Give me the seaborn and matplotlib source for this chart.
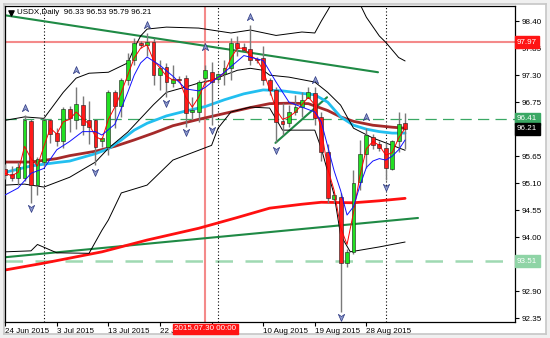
import numpy as np
import pandas as pd
import matplotlib
matplotlib.use("Agg")
import matplotlib.pyplot as plt
import seaborn as sns
from matplotlib.path import Path

sns.set_theme(style="white")
plt.rcParams['font.family'] = ['Liberation Sans', 'DejaVu Sans']

# ---------------- data ----------------
bar_index = list(range(63))
opens = [95.39, 95.28, 95.20, 95.20, 96.36, 95.06, 95.53, 96.38, 96.12, 95.96,
         96.61, 96.38, 96.69, 96.38, 96.38, 95.96, 95.83, 96.95, 96.67, 97.20,
         97.60, 97.95, 97.92, 97.97, 97.30, 97.46, 97.14, 97.22, 97.24, 96.55,
         96.55, 97.24, 97.36, 97.22, 97.32, 97.44, 97.95, 97.87, 97.83, 97.62,
         97.65, 97.20, 97.00, 96.36, 96.32, 96.55, 96.65, 96.83, 96.93, 96.44,
         95.73, 94.77, 94.81, 93.47, 93.69, 95.12, 95.69, 96.04, 95.89, 95.81,
         95.39, 95.96, 96.33]
highs = [95.50, 95.45, 95.53, 96.49, 96.40, 95.63, 96.45, 96.40, 96.22, 96.65,
         96.68, 97.06, 96.88, 96.77, 96.40, 96.05, 97.00, 97.00, 97.25, 97.75,
         98.05, 98.00, 98.16, 98.05, 97.60, 97.55, 97.50, 97.28, 97.30, 96.85,
         97.20, 97.50, 97.56, 97.35, 97.60, 98.05, 98.10, 97.95, 98.32, 97.68,
         97.90, 97.25, 97.05, 96.73, 96.69, 96.89, 96.95, 97.06, 97.06, 96.55,
         95.90, 94.90, 94.90, 93.75, 95.37, 95.98, 96.22, 96.10, 95.95, 95.92,
         95.98, 96.55, 96.53]
lows = [95.18, 95.15, 95.06, 95.15, 94.69, 94.86, 95.45, 95.92, 95.86, 95.82,
        96.15, 96.20, 96.08, 95.90, 95.47, 95.83, 95.67, 96.22, 96.45, 97.10,
        97.50, 97.85, 97.70, 97.10, 97.00, 96.85, 97.05, 97.18, 96.24, 96.40,
        96.35, 97.10, 96.28, 97.15, 97.10, 97.20, 97.70, 97.80, 97.50, 97.55,
        97.10, 96.90, 95.94, 96.08, 96.24, 96.49, 96.44, 96.83, 96.28, 95.55,
        94.70, 94.70, 92.47, 93.40, 93.65, 94.95, 95.40, 95.80, 95.75, 95.16,
        95.37, 95.73, 95.79]
closes = [95.26, 95.20, 95.43, 96.38, 95.06, 95.59, 96.38, 96.10, 95.96, 96.61,
          96.42, 96.71, 96.28, 96.24, 95.83, 96.02, 96.95, 96.67, 97.20, 97.60,
          97.95, 97.92, 97.97, 97.30, 97.44, 97.16, 97.22, 97.21, 96.53, 96.59,
          97.16, 97.40, 97.16, 97.32, 97.44, 97.95, 97.85, 97.81, 97.60, 97.60,
          97.20, 97.00, 96.34, 96.30, 96.55, 96.65, 96.79, 96.95, 96.42, 95.73,
          94.79, 94.85, 93.47, 93.69, 95.10, 95.69, 96.08, 95.87, 95.81, 95.41,
          95.96, 96.30, 96.21]

fast_ma = [95.30, 95.25, 95.32, 95.85, 95.60, 95.45, 95.85, 96.22, 96.10, 96.35,
           96.40, 96.55, 96.42, 96.30, 96.05, 95.98, 96.40, 96.65, 96.95, 97.30,
           97.65, 97.85, 97.92, 97.60, 97.45, 97.28, 97.20, 97.20, 96.85, 96.65,
           96.85, 97.15, 97.20, 97.25, 97.35, 97.65, 97.85, 97.85, 97.70, 97.62,
           97.40, 97.00, 96.60, 96.40, 96.45, 96.55, 96.70, 96.85, 96.70, 96.20,
           95.40, 94.95, 94.20, 93.85, 94.50, 95.25, 95.80, 95.95, 95.87, 95.67,
           95.72, 96.02, 96.22]

slow_ma_idx = [0, 2, 4, 6, 8, 10, 12, 14, 15, 17, 18, 19, 20, 21, 22, 24, 26, 28,
               30, 31, 34, 37, 40, 42, 44, 46, 48, 49, 50, 51, 52, 53, 54, 55, 56,
               57, 58, 59, 60, 61, 62]
slow_ma = [94.86, 95.00, 95.30, 95.40, 95.78, 95.95, 96.15, 96.15, 96.08, 96.30,
           96.62, 96.95, 97.30, 97.55, 97.67, 97.50, 97.28, 97.02, 96.98, 97.05,
           97.36, 97.70, 97.60, 97.16, 96.75, 96.65, 96.55, 96.35, 95.85, 95.35,
           94.95, 94.45, 94.62, 95.05, 95.42, 95.55, 95.60, 95.57, 95.65, 95.78,
           95.98]

sky_idx = [0, 4, 8, 10, 14, 16, 18, 20, 22, 25, 28, 31, 34, 37, 40, 43, 46, 48,
           50, 52, 54, 56, 58, 60, 62]
sky_ma = [95.32, 95.45, 95.52, 95.55, 95.70, 95.80, 95.98, 96.18, 96.32, 96.47,
          96.57, 96.66, 96.80, 96.92, 97.00, 96.98, 96.93, 96.90, 96.75, 96.45,
          96.28, 96.20, 96.15, 96.12, 96.12]

brown_idx = [0, 4, 8, 10, 14, 17, 20, 23, 26, 30, 34, 38, 41, 44, 47, 50, 52, 54,
             57, 60, 62]
brown_ma = [95.53, 95.53, 95.60, 95.66, 95.75, 95.85, 95.98, 96.12, 96.27, 96.40,
            96.52, 96.64, 96.72, 96.73, 96.72, 96.58, 96.45, 96.36, 96.28, 96.24,
            96.22]

long_idx = [0, 6, 15, 22, 30, 36, 41, 46, 49, 54, 58, 62]
long_ma = [93.33, 93.47, 93.70, 93.94, 94.18, 94.40, 94.59, 94.67, 94.71, 94.70,
           94.74, 94.79]

bb_up_idx = [0, 3, 6, 9, 11, 13, 16, 19, 20, 21, 22, 25, 30, 35, 38, 42, 46, 48,
             49, 50, 51, 53, 55, 56, 58, 59, 61, 62]
bb_up = [96.38, 96.45, 96.42, 96.95, 97.24, 97.34, 97.36, 97.55, 97.85, 98.10,
         98.24, 98.28, 98.26, 98.16, 98.22, 98.11, 98.18, 98.16, 98.40, 98.62,
         98.85, 99.00, 98.75, 98.48, 98.10, 97.97, 97.66, 97.59]

bb_mid_idx = [0, 3, 6, 10, 14, 16, 19, 21, 23, 25, 28, 30, 32, 34, 36, 38, 40, 41,
              44, 48, 50, 52, 54, 57, 62]
bb_mid = [95.06, 95.08, 95.02, 95.22, 95.53, 95.81, 96.14, 96.42, 96.70, 96.95,
          97.06, 97.14, 97.20, 97.30, 97.40, 97.44, 97.40, 97.30, 97.26, 97.16,
          96.95, 96.69, 96.22, 96.02, 95.77]

bb_lo_idx = [0, 4, 5, 8, 13, 15, 16, 18, 22, 26, 30, 32, 33, 35, 38, 41, 43, 48,
             49, 51, 52, 53.5, 58, 62]
bb_lo = [93.70, 93.72, 93.85, 93.68, 93.67, 94.14, 94.35, 94.90, 95.06, 95.57,
         95.77, 95.87, 96.22, 96.55, 96.65, 96.63, 96.18, 96.18, 95.81, 94.86,
         94.04, 93.70, 93.80, 93.90]

trend_top_idx = [0, 57.8]
trend_top = [98.52, 97.36]
trend_low_idx = [0, 64.0]
trend_low = [93.59, 94.39]
trend_short_idx = [41.9, 49.9]
trend_short = [95.92, 96.85]

fractal_up_idx = [3, 11, 22, 31, 38, 48, 56]
fractal_up = [96.63, 97.40, 98.32, 97.87, 98.48, 97.20, 96.44]
fractal_dn_idx = [4, 14, 25, 28, 32, 42, 52, 59]
fractal_dn = [94.59, 95.32, 96.73, 96.14, 96.18, 95.77, 92.37, 95.02]

separator_idx = [6, 33, 59]
cursor_idx = 31
cursor_price = 97.97
level_upper = 96.41
level_lower = 93.51
last_price = 96.21

tick_positions = [0, 8, 16, 24, 32, 40, 48, 56]
tick_labels = ["24 Jun 2015", "3 Jul 2015", "13 Jul 2015", "22 Jul 2015",
               "", "10 Aug 2015", "19 Aug 2015", "28 Aug 2015"]
price_ticks = [98.40, 97.85, 97.30, 96.75, 96.20, 95.65, 95.10, 94.55, 94.00,
               93.45, 92.90, 92.35]
price_tick_labels = ["98.40", "97.85", "97.30", "96.75", "", "95.65", "95.10",
                     "94.55", "94.00", "", "92.90", "92.35"]
title_text = "USDX,Daily  96.33 96.53 95.79 96.21"
cursor_label = "2015.07.30 00:00"

FS = 5.8

# ---------------- figure ----------------
W, H = 550, 338
fig = plt.figure(figsize=(W / 100, H / 100), dpi=100, facecolor="#f0f0f0")
bg = fig.add_axes([4 / W, 4 / H, 542 / W, 330 / H])
bg.set_facecolor("white")
bg.set_xticks([]); bg.set_yticks([])
for s in bg.spines.values():
    s.set_color("#c8c8c8")

ax = fig.add_axes([5 / W, 16 / H, 510 / W, 316 / H])
ax.set_facecolor("white")
ax.set_xlim(-0.03, 79.04)
ax.set_ylim(92.27, 98.71)

df = pd.DataFrame({"i": bar_index, "o": opens, "h": highs, "l": lows, "c": closes})
up = df["c"] >= df["o"]

# horizontal / vertical guide lines
ax.axhline(level_upper, color="#3aa864", lw=0.9, ls=(0, (9, 5)), zorder=1)
ax.axhline(level_lower, color="#9fd9b2", lw=1.8, ls=(0, (7, 5)), zorder=1)
ax.axhline(cursor_price, color="#f48a8a", lw=1.5, zorder=1)
ax.axvline(cursor_idx, color="#f48a8a", lw=1.5, zorder=1)
for s in separator_idx:
    ax.axvline(s, color="black", lw=0.8, ls=(0, (1, 2)), zorder=1)

# trend lines
for xs, ys in [(trend_top_idx, trend_top), (trend_low_idx, trend_low),
               (trend_short_idx, trend_short)]:
    sns.lineplot(x=xs, y=ys, ax=ax, color="#1f8a45", lw=1.5, zorder=2)

# moving averages
sns.lineplot(x=long_idx, y=long_ma, ax=ax, color="#ff1010", lw=2.0, zorder=2)
sns.lineplot(x=brown_idx, y=brown_ma, ax=ax, color="#a52a2a", lw=2.0, zorder=2)
sns.lineplot(x=sky_idx, y=sky_ma, ax=ax, color="#22bff0", lw=2.0, zorder=2)
for xs, ys in [(bb_up_idx, bb_up), (bb_mid_idx, bb_mid), (bb_lo_idx, bb_lo)]:
    sns.lineplot(x=xs, y=ys, ax=ax, color="black", lw=0.7, zorder=2)

# candles
ax.vlines(df["i"], df["l"], df["h"], color="#7a7a7a", lw=1.0, zorder=3)
body = (df["c"] - df["o"]).abs().clip(lower=0.015)
bottom = df[["o", "c"]].min(axis=1)
ax.bar(df["i"][up], body[up], bottom=bottom[up], width=0.6,
       color="#22e022", edgecolor="#1a1a1a", linewidth=0.4, zorder=4)
ax.bar(df["i"][~up], body[~up], bottom=bottom[~up], width=0.6,
       color="#ff1a1a", edgecolor="#1a1a1a", linewidth=0.4, zorder=4)

sns.lineplot(x=bar_index, y=fast_ma, ax=ax, color="#ff0000", lw=0.7, zorder=5)
sns.lineplot(x=slow_ma_idx, y=slow_ma, ax=ax, color="#1010ff", lw=0.7, zorder=5)

# fractal arrows
up_marker = Path([(0, 1), (0.8, -0.8), (0, -0.25), (-0.8, -0.8), (0, 1)],
                 [Path.MOVETO, Path.LINETO, Path.LINETO, Path.LINETO, Path.CLOSEPOLY])
dn_marker = Path([(0, -1), (0.8, 0.8), (0, 0.25), (-0.8, 0.8), (0, -1)],
                 [Path.MOVETO, Path.LINETO, Path.LINETO, Path.LINETO, Path.CLOSEPOLY])
ax.scatter(fractal_up_idx, fractal_up, marker=up_marker, s=32, c="#8c98cc",
           edgecolors="#2a3680", linewidths=0.5, zorder=6)
ax.scatter(fractal_dn_idx, fractal_dn, marker=dn_marker, s=32, c="#8c98cc",
           edgecolors="#2a3680", linewidths=0.5, zorder=6)

# axes styling
for side in ["left", "right", "top", "bottom"]:
    ax.spines[side].set_visible(True)
    ax.spines[side].set_color("black")
    ax.spines[side].set_linewidth(0.9)
ax.yaxis.tick_right()
ax.set_yticks(price_ticks)
ax.set_yticklabels(price_tick_labels)
ax.tick_params(axis="y", direction="out", length=3, width=0.8, labelsize=FS,
               pad=2, colors="black", right=True, left=False)
ax.set_xticks(tick_positions)
ax.set_xticklabels(tick_labels, ha="left")
ax.tick_params(axis="x", direction="out", length=3, width=0.8, labelsize=FS,
               pad=1.5, colors="black", bottom=True)
ax.set_xlabel(""); ax.set_ylabel("")
ax.grid(False)

# price boxes on the right
ytr = ax.get_yaxis_transform()
for val, fc, tc in [(cursor_price, "#ff1414", "white"), (level_upper, "#3aa864", "white"),
                    (last_price, "black", "white"), (level_lower, "#8fd4a6", "white")]:
    ax.text(1.004, val, f"{val:.2f}", transform=ytr, ha="left", va="center",
            fontsize=FS, color=tc, clip_on=False, zorder=10,
            bbox=dict(boxstyle="square,pad=0.3", fc=fc, ec=fc))

# cursor date box
xtr = ax.get_xaxis_transform()
ax.text(cursor_idx, -0.022, cursor_label, transform=xtr, ha="center", va="center",
        fontsize=FS, color="white", clip_on=False, zorder=10,
        bbox=dict(boxstyle="square,pad=0.2", fc="#ff1414", ec="#ff1414"))

# title
ax.scatter([0.012], [0.978], marker="v", s=14, c="black", transform=ax.transAxes,
           zorder=10, clip_on=False)
ax.text(0.024, 0.979, title_text, transform=ax.transAxes, ha="left", va="center",
        fontsize=FS, color="black", zorder=10)

fig.savefig("out.png", dpi=100, facecolor=fig.get_facecolor())
